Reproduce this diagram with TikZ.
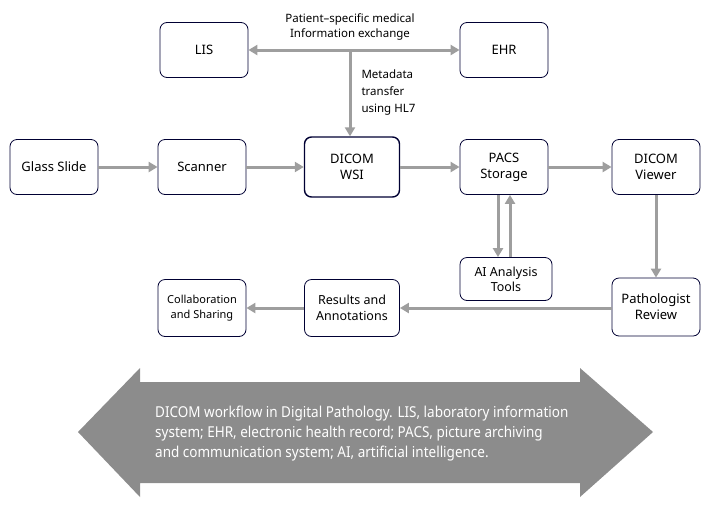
\documentclass[tikz,border=0pt]{standalone}
\usepackage{fontspec}
\setmainfont{Noto Sans}
\newfontfamily\capfont{Noto Sans}[FakeStretch=0.9]
\usetikzlibrary{arrows.meta}
\begin{document}
\begin{tikzpicture}[x=1pt,y=-1pt,
 box/.style={draw=black!80!blue,line width=0.8pt,rounded corners=7pt,minimum width=88pt,minimum height=55pt,align=center,font=\fontsize{13}{16}\selectfont,fill=white,inner sep=2pt},
 ar/.style={draw=black!38,line width=3pt,-{Triangle[length=9pt,width=10pt]}}]
\useasboundingbox (0,0) rectangle (720,520);
\node[box] (lis) at (204,50) {LIS};
\node[box] (ehr) at (504,50) {EHR};
\node[box] (glass) at (54,167) {Glass Slide};
\node[box] (scan) at (202,167) {Scanner};
\node[box,minimum width=95pt,minimum height=60pt,line width=1.4pt] (wsi) at (352,167) {DICOM\\WSI};
\node[box] (pacs) at (504,167) {PACS\\Storage};
\node[box] (view) at (656,167) {DICOM\\Viewer};
\node[box,minimum width=92pt,minimum height=43pt,font=\fontsize{12.5}{15}\selectfont] (ai) at (506,279) {AI Analysis\\Tools};
\node[box,minimum height=58pt] (path) at (656,307) {Pathologist\\Review};
\node[box,minimum width=95pt,minimum height=57pt,font=\fontsize{12.5}{16}\selectfont] (res) at (352,308) {Results and\\Annotations};
\node[box,minimum height=57pt,font=\fontsize{11}{15}\selectfont] (col) at (202,308) {Collaboration\\and Sharing};
\coordinate (j) at (350,50);
\draw[ar,{Triangle[length=9pt,width=10pt]}-{Triangle[length=9pt,width=10pt]}] (lis.east) -- (ehr.west);
\draw[ar] (j) -- (j|-wsi.north);
\node[font=\fontsize{11.5}{15}\selectfont,align=center] (tl) at (350,27) {Patient–specific medical\\Information exchange};
\node[font=\fontsize{11.5}{17}\selectfont,align=left,anchor=west] (ml) at (358,93) {Metadata\\transfer\\using HL7};
\draw[ar] (glass) -- (scan);
\draw[ar] (scan) -- (wsi);
\draw[ar] (wsi) -- (pacs);
\draw[ar] (pacs) -- (view);
\draw[ar] ([xshift=-6pt]pacs.south) -- ([xshift=-8pt]ai.north);
\draw[ar] ([xshift=4pt]ai.north) -- ([xshift=6pt]pacs.south);
\draw[ar] (view) -- (path);
\draw[ar] (path.west|-res) -- (res.east);
\draw[ar] (res) -- (col);
\fill[black!45] (78,432) -- (140,368) -- (140,382) -- (580,382) -- (580,368) -- (653,432) -- (580,497) -- (580,483) -- (140,483) -- (140,497) -- cycle;
\node[text=white,align=left,font=\fontsize{15}{20}\selectfont\capfont,inner sep=0pt,anchor=west] (cap) at (155,434) {DICOM workflow in Digital Pathology. LIS, laboratory information\\system; EHR, electronic health record; PACS, picture archiving\\and communication system; AI, artificial intelligence.};
\end{tikzpicture}
\end{document}
